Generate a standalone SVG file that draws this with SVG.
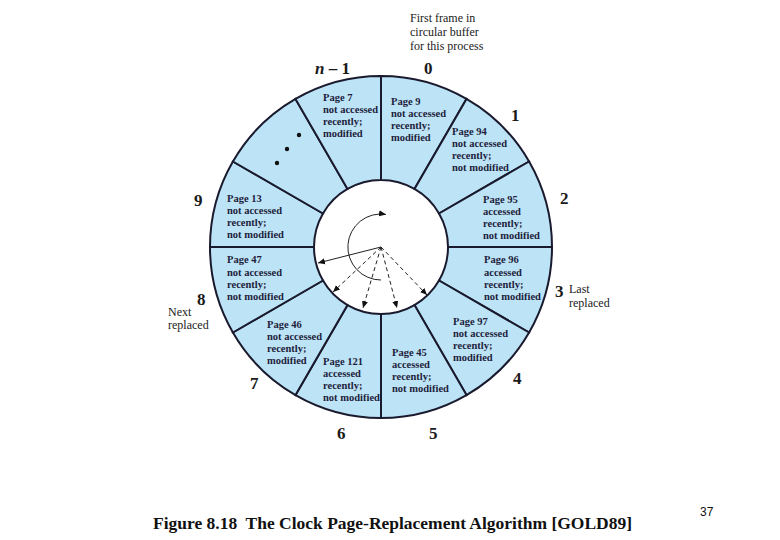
<svg xmlns="http://www.w3.org/2000/svg" width="780" height="540" viewBox="0 0 780 540">
<style>
.seg{fill:#bde3f6;stroke:#1a1a2e;stroke-width:2}
.pt{font-family:"Liberation Serif",serif;font-size:10.5px;font-weight:bold;fill:#1e1e3c}
.num{font-family:"Liberation Serif",serif;font-size:17px;font-weight:bold;fill:#1a1a1a}
.note{font-family:"Liberation Serif",serif;font-size:12px;fill:#1a1a1a}
.hand{stroke:#222;stroke-width:1;fill:none}
.dash{stroke:#222;stroke-width:1;fill:none;stroke-dasharray:4 3}
</style>
<defs>
<marker id="ah" markerUnits="userSpaceOnUse" markerWidth="8" markerHeight="8" refX="7" refY="4" orient="auto">
<path d="M0,1 L7,4 L0,7 Z" fill="#111"/>
</marker>
</defs>
<rect width="780" height="540" fill="#fff"/>
<g id="seg0"><path class="seg" d="M381,76 A171,171 0 0 1 466.5,98.91 L414.5,188.98 A67,67 0 0 0 381,180 Z"/>
<text class="pt" x="391" y="105">Page 9</text><text class="pt" x="391" y="117">not accessed</text><text class="pt" x="391" y="129">recently;</text><text class="pt" x="391" y="141">modified</text></g>
<g id="seg1"><path class="seg" d="M466.5,98.91 A171,171 0 0 1 529.09,161.5 L439.02,213.5 A67,67 0 0 0 414.5,188.98 Z"/>
<text class="pt" x="452" y="135">Page 94</text><text class="pt" x="452" y="147">not accessed</text><text class="pt" x="452" y="159">recently;</text><text class="pt" x="452" y="171">not modified</text></g>
<g id="seg2"><path class="seg" d="M529.09,161.5 A171,171 0 0 1 552,247 L448,247 A67,67 0 0 0 439.02,213.5 Z"/>
<text class="pt" x="483" y="203">Page 95</text><text class="pt" x="483" y="215">accessed</text><text class="pt" x="483" y="227">recently;</text><text class="pt" x="483" y="239">not modified</text></g>
<g id="seg3"><path class="seg" d="M552,247 A171,171 0 0 1 529.09,332.5 L439.02,280.5 A67,67 0 0 0 448,247 Z"/>
<text class="pt" x="484" y="263">Page 96</text><text class="pt" x="484" y="276">accessed</text><text class="pt" x="484" y="288">recently;</text><text class="pt" x="484" y="300">not modified</text></g>
<g id="seg4"><path class="seg" d="M529.09,332.5 A171,171 0 0 1 466.5,395.09 L414.5,305.02 A67,67 0 0 0 439.02,280.5 Z"/>
<text class="pt" x="453" y="325">Page 97</text><text class="pt" x="453" y="337">not accessed</text><text class="pt" x="453" y="349">recently;</text><text class="pt" x="453" y="361">modified</text></g>
<g id="seg5"><path class="seg" d="M466.5,395.09 A171,171 0 0 1 381,418 L381,314 A67,67 0 0 0 414.5,305.02 Z"/>
<text class="pt" x="392" y="356">Page 45</text><text class="pt" x="392" y="368">accessed</text><text class="pt" x="392" y="380">recently;</text><text class="pt" x="392" y="392">not modified</text></g>
<g id="seg6"><path class="seg" d="M381,418 A171,171 0 0 1 295.5,395.09 L347.5,305.02 A67,67 0 0 0 381,314 Z"/>
<text class="pt" x="323" y="365">Page 121</text><text class="pt" x="323" y="377">accessed</text><text class="pt" x="323" y="389">recently;</text><text class="pt" x="323" y="401">not modified</text></g>
<g id="seg7"><path class="seg" d="M295.5,395.09 A171,171 0 0 1 232.91,332.5 L322.98,280.5 A67,67 0 0 0 347.5,305.02 Z"/>
<text class="pt" x="267" y="328">Page 46</text><text class="pt" x="267" y="340">not accessed</text><text class="pt" x="267" y="352">recently;</text><text class="pt" x="267" y="364">modified</text></g>
<g id="seg8"><path class="seg" d="M232.91,332.5 A171,171 0 0 1 210,247 L314,247 A67,67 0 0 0 322.98,280.5 Z"/>
<text class="pt" x="227" y="263">Page 47</text><text class="pt" x="227" y="276">not accessed</text><text class="pt" x="227" y="288">recently;</text><text class="pt" x="227" y="300">not modified</text></g>
<g id="seg9"><path class="seg" d="M210,247 A171,171 0 0 1 232.91,161.5 L322.98,213.5 A67,67 0 0 0 314,247 Z"/>
<text class="pt" x="227" y="202">Page 13</text><text class="pt" x="227" y="214">not accessed</text><text class="pt" x="227" y="226">recently;</text><text class="pt" x="227" y="238">not modified</text></g>
<g id="segdots"><path class="seg" d="M232.91,161.5 A171,171 0 0 1 295.5,98.91 L347.5,188.98 A67,67 0 0 0 322.98,213.5 Z"/>
<circle cx="299" cy="135" r="2.2" fill="#111"/><circle cx="287" cy="149" r="2.2" fill="#111"/><circle cx="277" cy="163" r="2.2" fill="#111"/></g>
<g id="segn1"><path class="seg" d="M295.5,98.91 A171,171 0 0 1 381,76 L381,180 A67,67 0 0 0 347.5,188.98 Z"/>
<text class="pt" x="323" y="101">Page 7</text><text class="pt" x="323" y="113">not accessed</text><text class="pt" x="323" y="125">recently;</text><text class="pt" x="323" y="137">modified</text></g>
<g id="labels">
<text class="num" x="315" y="74"><tspan font-style="italic">n</tspan> – 1</text>
<text class="num" x="424" y="74">0</text>
<text class="num" x="511" y="121">1</text>
<text class="num" x="560" y="204">2</text>
<text class="num" x="555" y="297">3</text>
<text class="num" x="513" y="384">4</text>
<text class="num" x="429" y="439">5</text>
<text class="num" x="337" y="439">6</text>
<text class="num" x="250" y="389">7</text>
<text class="num" x="197" y="305">8</text>
<text class="num" x="194" y="206">9</text>
<text class="note" x="410" y="22">First frame in</text>
<text class="note" x="410" y="36">circular buffer</text>
<text class="note" x="410" y="50">for this process</text>
<text class="note" x="569" y="293">Last</text>
<text class="note" x="569" y="307">replaced</text>
<text class="note" x="168" y="316">Next</text>
<text class="note" x="168" y="329">replaced</text>
</g>
<g id="connectors">
<path class="hand" d="M381,280 A33,33 0 1 1 386,214.4" marker-end="url(#ah)"/>
<line class="hand" x1="381" y1="247" x2="318" y2="263" marker-end="url(#ah)"/>
<line class="dash" x1="381" y1="247" x2="333" y2="292" marker-end="url(#ah)"/>
<line class="dash" x1="381" y1="247" x2="363" y2="308" marker-end="url(#ah)"/>
<line class="dash" x1="381" y1="247" x2="397" y2="308" marker-end="url(#ah)"/>
<line class="dash" x1="381" y1="247" x2="427" y2="295" marker-end="url(#ah)"/>
</g>
<text x="153" y="529" font-family="Liberation Serif,serif" font-size="17" font-weight="bold" fill="#111" textLength="479" lengthAdjust="spacingAndGlyphs">Figure 8.18&#160; The Clock Page-Replacement Algorithm [GOLD89]</text>
<text x="700" y="516" font-family="Liberation Sans,sans-serif" font-size="12" fill="#111">37</text>
</svg>
